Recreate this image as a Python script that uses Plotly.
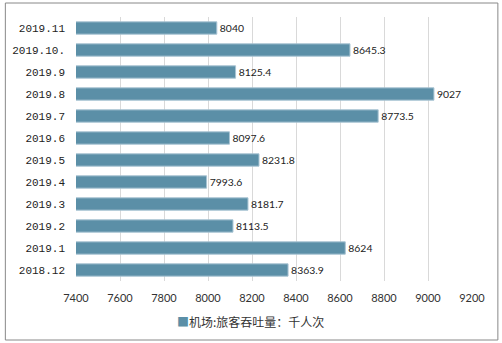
import plotly.graph_objects as go

categories = ["2018.12", "2019.1", "2019.2", "2019.3", "2019.4", "2019.5",
              "2019.6", "2019.7", "2019.8", "2019.9", "2019.10.", "2019.11"]
values = [8363.9, 8624, 8113.5, 8181.7, 7993.6, 8231.8,
          8097.6, 8773.5, 9027, 8125.4, 8645.3, 8040]
value_labels = ["8363.9", "8624", "8113.5", "8181.7", "7993.6", "8231.8",
                "8097.6", "8773.5", "9027", "8125.4", "8645.3", "8040"]
x_ticks = [7400, 7600, 7800, 8000, 8200, 8400, 8600, 8800, 9000, 9200]
series_name = "机场:旅客吞吐量：千人次"
bar_color = "#5b8fa7"

fig = go.Figure()
fig.add_trace(go.Bar(
    y=categories, x=values, orientation="h", name=series_name,
    marker=dict(color=bar_color, line=dict(color="#a9c4d3", width=1)),
    text=value_labels, textposition="outside", cliponaxis=False,
    textfont=dict(family="Lato, Liberation Sans", size=11, color="#222222"),
    showlegend=False,
))

fig.update_layout(
    width=502, height=343,
    margin=dict(l=74, r=30, t=17, b=62),
    paper_bgcolor="white", plot_bgcolor="white",
    bargap=0.44,
    xaxis=dict(range=[7400, 9200], tickvals=x_ticks, showgrid=True,
               gridcolor="#d9d9d9", gridwidth=1, zeroline=False,
               showline=False, ticks="", ticklabelstandoff=9,
               tickfont=dict(family="Lato, Liberation Sans", size=11, color="#333333")),
    yaxis=dict(categoryorder="array", categoryarray=categories,
               showgrid=False, showline=False, ticks="", ticklabelstandoff=10,
               tickfont=dict(family="Liberation Mono, DejaVu Sans Mono", size=11, color="#222222")),
    annotations=[dict(
        xref="paper", yref="paper", x=0.44, xanchor="center",
        y=(281 - 321) / 264, yanchor="middle", showarrow=False,
        text=f'<span style="color:{bar_color}">■</span>{series_name}',
        font=dict(family="Noto Sans CJK SC", size=12, color="#333333"),
    )],
    shapes=[dict(type="rect", xref="paper", yref="paper",
                 x0=(3 - 74) / 398, x1=(498 - 74) / 398,
                 y0=(281 - 340) / 264, y1=(281 - 3) / 264,
                 line=dict(color="#888888", width=1), fillcolor="rgba(0,0,0,0)")],
)

fig.write_html("out.html")
